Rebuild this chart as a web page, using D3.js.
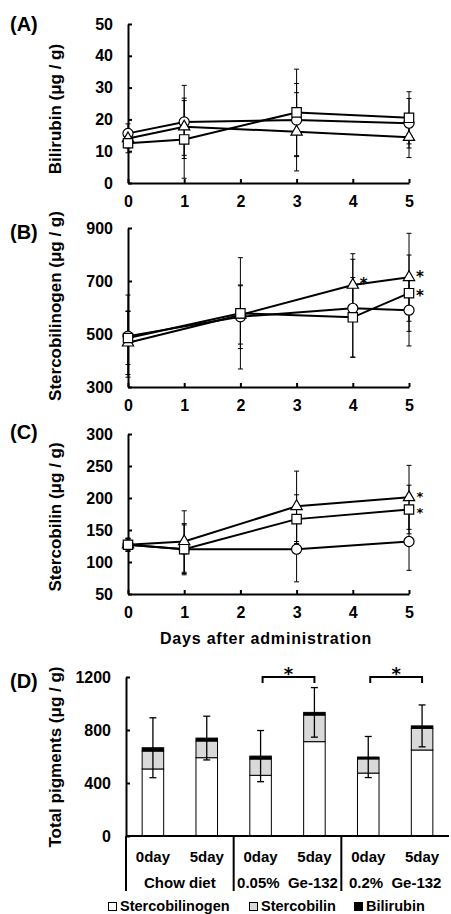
<!DOCTYPE html>
<html>
<head>
<meta charset="utf-8">
<script src="https://cdn.jsdelivr.net/npm/d3@7/dist/d3.min.js"></script>
<style>
  body { margin: 0; background: #fff; }
  text { font-family: "Liberation Sans", Arial, sans-serif; font-weight: bold; fill: #000; }
  text.star { font-family: "DejaVu Sans", sans-serif; }
</style>
</head>
<body>
<div id="chart"></div>
<script>
// ---- data ----
const xTicks = [0, 1, 2, 3, 4, 5];
const daysAC = [0, 1, 3, 5];
const daysB = [0, 2, 4, 5];

// (A) bilirubin
const biliCircle = [15.6, 19.2, 19.8, 18.8];
const biliCircleSd = [3, 11.5, 11.5, 7.8];
const biliSquare = [12.5, 13.7, 22.2, 20.5];
const biliSquareSd = [3, 12.2, 13.6, 8.2];
const biliTriangle = [14.0, 17.7, 16.1, 14.4];
const biliTriangleSd = [3, 9, 12.3, 6.4];
const biliTicks = [0, 10, 20, 30, 40, 50];

// (B) stercobilinogen
const sbgCircle = [492, 565, 597, 590];
const sbgCircleSd = [155, 120, 185, 135];
const sbgSquare = [485, 578, 563, 654];
const sbgSquareSd = [100, 210, 150, 144];
const sbgTriangle = [467, 572, 685, 714];
const sbgTriangleSd = [120, 110, 118, 166];
const sbgTicks = [300, 500, 700, 900];
const sbgStars = [["triangle", 2], ["triangle", 3], ["square", 3]];

// (C) stercobilin
const sbCircle = [127, 120, 120, 132];
const sbCircleSd = [10, 38, 51, 45];
const sbSquare = [127, 120, 167, 182];
const sbSquareSd = [10, 40, 38, 38];
const sbTriangle = [127, 132, 187, 201];
const sbTriangleSd = [10, 48, 55, 50];
const sbTicks = [50, 100, 150, 200, 250, 300];
const sbStars = [["triangle", 3], ["square", 3]];

// (D) total pigments
const dayLabels = ["0day", "5day", "0day", "5day", "0day", "5day"];
const groupLabels = ["Chow diet", "0.05%  Ge-132", "0.2%  Ge-132"];
const totStercobilinogen = [506, 591, 458, 712, 475, 649];
const totStercobilin = [135, 126, 123, 201, 107, 164];
const totBilirubin = [25, 22, 22, 20, 14, 18];
const totSd = [226, 165, 193, 187, 155, 158];
const totTicks = [0, 400, 800, 1200];
const legendLabels = ["Stercobilinogen", "Stercobilin", "Bilirubin"];

const W = 451, H = 914;
const svg = d3.select("#chart").append("svg")
    .attr("width", W).attr("height", H);

const shapes = {
    circle: d3.symbol().type(d3.symbolCircle).size(80),
    square: d3.symbol().type(d3.symbolSquare).size(88),
    triangle: d3.symbol().type(d3.symbolTriangle).size(55)
};

const x = d3.scaleLinear().domain([0, 5]).range([128, 409]);

function styleAxis(a) {
    a.selectAll("text").style("font-size", "16px").style("font-family", null);
    a.selectAll("path, line").attr("stroke-width", 2);
}

function linePanel(p) {
    const y = d3.scaleLinear().domain(p.domain).range([p.bottom, p.top]);
    const g = svg.append("g");

    // axes
    g.append("g")
        .attr("transform", `translate(128,0)`)
        .call(d3.axisLeft(y).tickValues(p.ticks).tickSizeInner(-4).tickSizeOuter(0).tickPadding(15))
        .call(styleAxis);
    g.append("g")
        .attr("transform", `translate(0,${p.bottom})`)
        .call(d3.axisBottom(x).tickValues(xTicks).tickFormat(d3.format("d")).tickSizeInner(-4).tickSizeOuter(0).tickPadding(13))
        .call(styleAxis);

    const line = d3.line().x((d, i) => x(p.days[i])).y(d => y(d));

    p.series.forEach(s => {
        g.append("path").datum(s.vals)
            .attr("d", line).attr("fill", "none")
            .attr("stroke", "#000").attr("stroke-width", 2);
    });

    // error bars
    p.series.forEach(s => {
        s.vals.forEach((v, i) => {
            const cx = x(p.days[i]);
            const y1 = y(v + s.sd[i]), y0 = y(v - s.sd[i]);
            const eb = g.append("g").attr("stroke", "#000").attr("stroke-width", 1);
            eb.append("line").attr("x1", cx).attr("x2", cx).attr("y1", y1).attr("y2", y0);
            eb.append("line").attr("x1", cx - 2.5).attr("x2", cx + 2.5).attr("y1", y1).attr("y2", y1);
            eb.append("line").attr("x1", cx - 2.5).attr("x2", cx + 2.5).attr("y1", y0).attr("y2", y0);
        });
    });

    // markers
    p.series.forEach(s => {
        g.selectAll(null).data(s.vals).enter().append("path")
            .attr("d", shapes[s.shape])
            .attr("transform", (d, i) => `translate(${x(p.days[i])},${y(d)})`)
            .attr("fill", "#fff").attr("stroke", "#000").attr("stroke-width", 1.2);
    });

    // significance stars (nudged apart a little where two share a day)
    (p.stars || []).forEach(([shape, i]) => {
        const s = p.series.find(d => d.shape === shape);
        const nudge = shape === "triangle" ? -p.starNudge : p.starNudge;
        g.append("text").attr("class", "star")
            .attr("x", x(p.days[i]) + 11)
            .attr("y", y(s.vals[i]) + p.starSize * 0.4 + nudge)
            .attr("text-anchor", "middle")
            .style("font-size", p.starSize + "px")
            .text("*");
    });

    g.append("text")
        .attr("transform", `translate(55,${p.titleY}) rotate(-90)`)
        .attr("text-anchor", "middle").attr("dy", "0.35em")
        .style("font-size", "17px")
        .text(p.title);

    g.append("text")
        .attr("x", 10).attr("y", p.labelY)
        .style("font-size", "20px")
        .text(p.label);
}

linePanel({
    top: 24, bottom: 183, domain: [0, 50], ticks: biliTicks, days: daysAC,
    series: [
        { vals: biliCircle, sd: biliCircleSd, shape: "circle" },
        { vals: biliTriangle, sd: biliTriangleSd, shape: "triangle" },
        { vals: biliSquare, sd: biliSquareSd, shape: "square" }
    ],
    title: "Bilirubin (μg / g)", titleY: 109, label: "(A)", labelY: 31
});

linePanel({
    top: 228, bottom: 387, domain: [300, 900], ticks: sbgTicks, days: daysB,
    series: [
        { vals: sbgCircle, sd: sbgCircleSd, shape: "circle" },
        { vals: sbgTriangle, sd: sbgTriangleSd, shape: "triangle" },
        { vals: sbgSquare, sd: sbgSquareSd, shape: "square" }
    ],
    stars: sbgStars, starSize: 15, starNudge: 1.5,
    title: "Stercobilinogen (μg / g)", titleY: 306, label: "(B)", labelY: 239
});

linePanel({
    top: 434, bottom: 594, domain: [50, 300], ticks: sbTicks, days: daysAC,
    series: [
        { vals: sbCircle, sd: sbCircleSd, shape: "circle" },
        { vals: sbTriangle, sd: sbTriangleSd, shape: "triangle" },
        { vals: sbSquare, sd: sbSquareSd, shape: "square" }
    ],
    stars: sbStars, starSize: 13, starNudge: 2,
    title: "Stercobilin (μg / g)", titleY: 517, label: "(C)", labelY: 439
});

svg.append("text")
    .attr("x", 266).attr("y", 644)
    .attr("text-anchor", "middle")
    .style("font-size", "16px")
    .style("letter-spacing", "0.8px")
    .text("Days after administration");

// ---- (D) stacked bars ----
const xb = d3.scaleBand().domain(d3.range(6)).range([126, 449])
    .paddingInner(0.6).paddingOuter(0.3);
const yb = d3.scaleLinear().domain([0, 1200]).range([836, 677]);
const dG = svg.append("g");

dG.append("g")
    .attr("transform", "translate(126,0)")
    .call(d3.axisLeft(yb).tickValues(totTicks).tickFormat(d3.format("d"))
        .tickSizeInner(-4).tickSizeOuter(0).tickPadding(15))
    .call(styleAxis);

const stackRows = d3.range(6).map(i => ({
    i, sbg: totStercobilinogen[i], sb: totStercobilin[i], bili: totBilirubin[i]
}));
const stack = d3.stack().keys(["sbg", "sb", "bili"])(stackRows);
const fills = { sbg: "#fff", sb: "#d9d9d9", bili: "#000" };

stack.forEach(layer => {
    dG.selectAll(null).data(layer).enter().append("rect")
        .attr("x", d => xb(d.data.i))
        .attr("width", xb.bandwidth())
        .attr("y", d => yb(d[1]))
        .attr("height", d => yb(d[0]) - yb(d[1]))
        .attr("fill", fills[layer.key])
        .attr("stroke", "#000").attr("stroke-width", 1);
});

// error bars on totals
stackRows.forEach(r => {
    const tot = r.sbg + r.sb + r.bili;
    const cx = xb(r.i) + xb.bandwidth() / 2;
    const y1 = yb(tot + totSd[r.i]), y0 = yb(tot - totSd[r.i]);
    const eb = dG.append("g").attr("stroke", "#000").attr("stroke-width", 1.3);
    eb.append("line").attr("x1", cx).attr("x2", cx).attr("y1", y1).attr("y2", y0);
    eb.append("line").attr("x1", cx - 3.5).attr("x2", cx + 3.5).attr("y1", y1).attr("y2", y1);
    eb.append("line").attr("x1", cx - 3.5).attr("x2", cx + 3.5).attr("y1", y0).attr("y2", y0);
});

// significance brackets (0day vs 5day for Ge-132 groups)
[[2, 3], [4, 5]].forEach(([a, b]) => {
    const xa = xb(a) + xb.bandwidth() / 2 + 2, xc = xb(b) + xb.bandwidth() / 2;
    const yt = yb(1200);
    dG.append("path")
        .attr("d", `M${xa},${yt + 6}V${yt}H${xc}V${yt + 6}`)
        .attr("fill", "none").attr("stroke", "#000").attr("stroke-width", 2);
    dG.append("text").attr("class", "star")
        .attr("x", (xa + xc) / 2).attr("y", yt + 3)
        .attr("text-anchor", "middle")
        .style("font-size", "18px")
        .text("*");
});

// category table under the bars
dG.append("line").attr("x1", 126).attr("x2", 449).attr("y1", 836).attr("y2", 836)
    .attr("stroke", "#000").attr("stroke-width", 2);
[0, 2, 4].forEach(i => {
    const lx = xb(i) - xb.step() * 0.3;
    dG.append("line").attr("x1", lx).attr("x2", lx)
        .attr("y1", 836).attr("y2", 891)
        .attr("stroke", "#000").attr("stroke-width", 2);
});
dG.selectAll(null).data(dayLabels).enter().append("text")
    .attr("x", (d, i) => xb(i) + xb.bandwidth() / 2)
    .attr("y", 862)
    .attr("text-anchor", "middle")
    .style("font-size", "15px")
    .text(d => d);
dG.selectAll(null).data(groupLabels).enter().append("text")
    .attr("x", (d, i) => (xb(2 * i) + xb(2 * i + 1) + xb.bandwidth()) / 2)
    .attr("y", 888)
    .attr("text-anchor", "middle")
    .style("white-space", "pre")
    .style("font-size", "15px")
    .text(d => d);

dG.append("text")
    .attr("transform", "translate(55,757) rotate(-90)")
    .attr("text-anchor", "middle").attr("dy", "0.35em")
    .style("font-size", "17px")
    .text("Total pigments (μg / g)");
dG.append("text")
    .attr("x", 10).attr("y", 688)
    .style("font-size", "20px")
    .text("(D)");

// legend
const legX = [108, 249, 354];
const legFill = ["#fff", "#d9d9d9", "#000"];
legendLabels.forEach((t, i) => {
    dG.append("rect")
        .attr("x", legX[i] + 0.5).attr("y", 902.5)
        .attr("width", 8).attr("height", 8)
        .attr("fill", legFill[i]).attr("stroke", "#000").attr("stroke-width", 1);
    dG.append("text")
        .attr("x", legX[i] + 12).attr("y", 911)
        .style("font-size", "14.5px")
        .text(t);
});
</script>
</body>
</html>
